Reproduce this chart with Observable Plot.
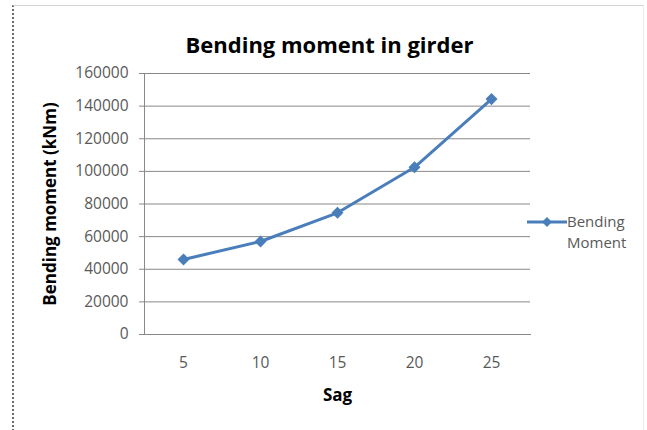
<!DOCTYPE html>
<html>
<head>
<meta charset="utf-8">
<script src="https://cdn.jsdelivr.net/npm/d3@7"></script>
<script src="https://cdn.jsdelivr.net/npm/@observablehq/plot@0.6"></script>
<style>
  html, body { margin: 0; padding: 0; background: #fff; }
  #wrap { position: relative; width: 647px; height: 430px; overflow: hidden; background: #fff; }
  #box { position: absolute; left: 12px; top: 5px; width: 632px; height: 430px;
         border-left: 2px dotted #6a6a6a; border-top: 1px solid #d4d4d4; border-right: 1px solid #ececec; box-sizing: border-box; }
  #chart { position: absolute; left: 0; top: 0; }
  #legend { position: absolute; left: 527px; top: 211px; font-family: "Open Sans", sans-serif; font-size: 15px; color: #595959; line-height: 21px; }
  #legend svg { position: absolute; left: 0; top: 3px; }
  #legend .lbl { position: absolute; left: 40px; top: 0; white-space: nowrap; }
</style>
</head>
<body>
<div id="wrap">
  <div id="box"></div>
  <div id="chart"></div>
  <div id="legend"></div>
</div>
<script>
const sag = [5, 10, 15, 20, 25];
const moment = [46000, 57000, 74600, 102500, 144300];
const yTicks = [0, 20000, 40000, 60000, 80000, 100000, 120000, 140000, 160000];
const seriesName = "Bending Moment";
const titleText = "Bending moment in girder";
const xLabel = "Sag";
const yLabel = "Bending moment (kNm)";

const blue = "#4A7EBB";
const gridColor = "#888888";
const data = sag.map((s, i) => ({sag: s, moment: moment[i]}));

const squareDiamond = {
  draw(ctx, size) {
    const h = Math.sqrt(size / 2);
    ctx.moveTo(0, -h); ctx.lineTo(h, 0); ctx.lineTo(0, h); ctx.lineTo(-h, 0); ctx.closePath();
  }
};

const chart = Plot.plot({
  width: 647, height: 430,
  marginLeft: 144, marginRight: 117, marginTop: 73, marginBottom: 96,
  style: {fontFamily: "'Open Sans', sans-serif", fontSize: "15.5px", color: "#595959", background: "transparent", overflow: "visible"},
  x: {type: "point", domain: sag, padding: 0.5, align: 0.5},
  y: {domain: [0, 160000]},
  marks: [
    Plot.gridY(yTicks, {stroke: gridColor, strokeOpacity: 1, strokeWidth: 1}),
    Plot.axisY(yTicks, {tickSize: 5, tickPadding: 11, tickFormat: d3.format("d"), label: null, stroke: gridColor, fill: "#595959"}),
    Plot.axisX({tickSize: 0, tickPadding: 22, label: null, fill: "#595959"}),
    Plot.frame({anchor: "left", stroke: gridColor}),
    Plot.frame({anchor: "bottom", stroke: gridColor}),
    Plot.line(data, {x: "sag", y: "moment", stroke: blue, strokeWidth: 3, strokeLinejoin: "round"}),
    Plot.dot(data, {x: "sag", y: "moment", symbol: squareDiamond, r: 4.8, fill: blue, stroke: "none"}),
    Plot.text([titleText], {text: d => d, frameAnchor: "top", dx: -8, dy: -36, fontSize: 22, fontWeight: "bold", fill: "#000"}),
    Plot.text([xLabel], {text: d => d, frameAnchor: "bottom", dx: 0, dy: 66, fontSize: 17, fontWeight: "bold", fill: "#000"}),
    Plot.text([yLabel], {text: d => d, frameAnchor: "left", textAnchor: "middle", dx: -94, dy: 0, rotate: -90, fontSize: 17, fontWeight: "bold", fill: "#000"})
  ]
});
document.getElementById("chart").appendChild(chart);

// legend
const leg = document.getElementById("legend");
leg.innerHTML = `<svg width="40" height="16"><line x1="0" y1="8" x2="40" y2="8" stroke="${blue}" stroke-width="3"/>` +
  `<path d="M20,3 L25,8 L20,13 L15,8 Z" fill="${blue}"/></svg>` +
  `<div class="lbl">${seriesName.split(" ").join("<br>")}</div>`;
</script>
</body>
</html>
